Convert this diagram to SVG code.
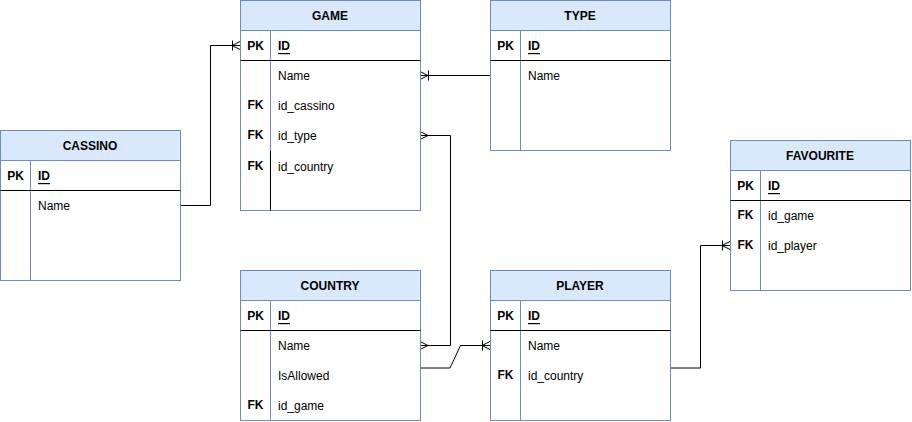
<svg xmlns="http://www.w3.org/2000/svg" width="912" height="422" viewBox="0 0 912 422">
<style>
.hdr{fill:#dae8fc;stroke:#6c8ebf;stroke-width:1}
.body{fill:#ffffff;stroke:#6c8ebf;stroke-width:1}
.div{stroke:#6c8ebf;stroke-width:1}
.sep{stroke:#000;stroke-width:1}
text{font-family:"Liberation Sans",Arial,Helvetica,sans-serif;font-size:12px;fill:#000;dominant-baseline:central}
.t{font-weight:bold;text-anchor:middle}
.k{font-weight:bold;text-anchor:middle}
.id{font-weight:bold;text-decoration:underline}
.c{fill:none;stroke:#000;stroke-width:1}
</style>
<g id="connectors">
  <path class="c" d="M180.5,205.5 H210.5 V45.5 H240"/>
  <path class="c" d="M232.5,40.5 V50.5 M232,45.5 L240,41.5 M232,45.5 L240,49.5"/>
  <path class="c" d="M490,75.5 H420"/>
  <path class="c" d="M428.5,70.5 V80.5 M428,75.5 L420,71.5 M428,75.5 L420,79.5"/>
  <path class="c" d="M420,345.5 H450.5 V135.5 H420"/>
  <path class="c" d="M428,135.5 L420,131.5 M428,135.5 L420,139.5"/>
  <path class="c" d="M428,345.5 L420,341.5 M428,345.5 L420,349.5"/>
  <path class="c" d="M420,368 H450 L460.5,345.5 H490"/>
  <path class="c" d="M482.5,340.5 V350.5 M482,345.5 L490,341.5 M482,345.5 L490,349.5"/>
  <path class="c" d="M670,368 H700.5 V245.5 H730"/>
  <path class="c" d="M722.5,240.5 V250.5 M722,245.5 L730,241.5 M722,245.5 L730,249.5"/>
</g>
<g id="cassino">
  <rect class="body" x="0.5" y="130.5" width="180" height="150"/>
  <rect class="hdr" x="0.5" y="130.5" width="180" height="30"/>
  <line class="div" x1="30.5" y1="160.5" x2="30.5" y2="280.5"/>
  <line class="sep" x1="0.5" y1="190.5" x2="180.5" y2="190.5"/>
  <text class="t" x="90" y="146">CASSINO</text>
  <text class="k" x="15.5" y="176">PK</text>
  <text class="id" x="38" y="176">ID</text>
  <text x="38" y="206">Name</text>
</g>
<g id="game">
  <rect class="body" x="240.5" y="0.5" width="180" height="210"/>
  <rect class="hdr" x="240.5" y="0.5" width="180" height="30"/>
  <line class="div" x1="270.5" y1="30.5" x2="270.5" y2="151"/>
  <line class="sep" x1="270.5" y1="151" x2="270.5" y2="210.5"/>
  <line class="sep" x1="240.5" y1="60.5" x2="420.5" y2="60.5"/>
  <text class="t" x="330" y="16">GAME</text>
  <text class="k" x="255.5" y="46">PK</text>
  <text class="id" x="278" y="46">ID</text>
  <text x="278" y="76">Name</text>
  <text class="k" x="255.5" y="105">FK</text>
  <text x="278" y="106">id_cassino</text>
  <text class="k" x="255.5" y="135">FK</text>
  <text x="278" y="136">id_type</text>
  <text class="k" x="255.5" y="166">FK</text>
  <text x="278" y="167">id_country</text>
</g>
<g id="type">
  <rect class="body" x="490.5" y="0.5" width="180" height="150"/>
  <rect class="hdr" x="490.5" y="0.5" width="180" height="30"/>
  <line class="div" x1="520.5" y1="30.5" x2="520.5" y2="150.5"/>
  <line class="sep" x1="490.5" y1="60.5" x2="670.5" y2="60.5"/>
  <text class="t" x="580" y="16">TYPE</text>
  <text class="k" x="505.5" y="46">PK</text>
  <text class="id" x="528" y="46">ID</text>
  <text x="528" y="76">Name</text>
</g>
<g id="favourite">
  <rect class="body" x="730.5" y="140.5" width="180" height="150"/>
  <rect class="hdr" x="730.5" y="140.5" width="180" height="30"/>
  <line class="div" x1="760.5" y1="170.5" x2="760.5" y2="290.5"/>
  <line class="sep" x1="730.5" y1="200.5" x2="910.5" y2="200.5"/>
  <text class="t" x="820" y="156">FAVOURITE</text>
  <text class="k" x="745.5" y="186">PK</text>
  <text class="id" x="768" y="186">ID</text>
  <text class="k" x="745.5" y="215">FK</text>
  <text x="768" y="216">id_game</text>
  <text class="k" x="745.5" y="245">FK</text>
  <text x="768" y="246">id_player</text>
</g>
<g id="country">
  <rect class="body" x="240.5" y="270.5" width="180" height="150"/>
  <rect class="hdr" x="240.5" y="270.5" width="180" height="30"/>
  <line class="div" x1="270.5" y1="300.5" x2="270.5" y2="420.5"/>
  <line class="sep" x1="240.5" y1="330.5" x2="420.5" y2="330.5"/>
  <text class="t" x="330" y="286">COUNTRY</text>
  <text class="k" x="255.5" y="316">PK</text>
  <text class="id" x="278" y="316">ID</text>
  <text x="278" y="346">Name</text>
  <text x="278" y="376">IsAllowed</text>
  <text class="k" x="255.5" y="405">FK</text>
  <text x="278" y="406">id_game</text>
</g>
<g id="player">
  <rect class="body" x="490.5" y="270.5" width="180" height="150"/>
  <rect class="hdr" x="490.5" y="270.5" width="180" height="30"/>
  <line class="div" x1="520.5" y1="300.5" x2="520.5" y2="420.5"/>
  <line class="sep" x1="490.5" y1="330.5" x2="670.5" y2="330.5"/>
  <text class="t" x="580" y="286">PLAYER</text>
  <text class="k" x="505.5" y="316">PK</text>
  <text class="id" x="528" y="316">ID</text>
  <text x="528" y="346">Name</text>
  <text class="k" x="505.5" y="375">FK</text>
  <text x="528" y="376">id_country</text>
</g>
</svg>
